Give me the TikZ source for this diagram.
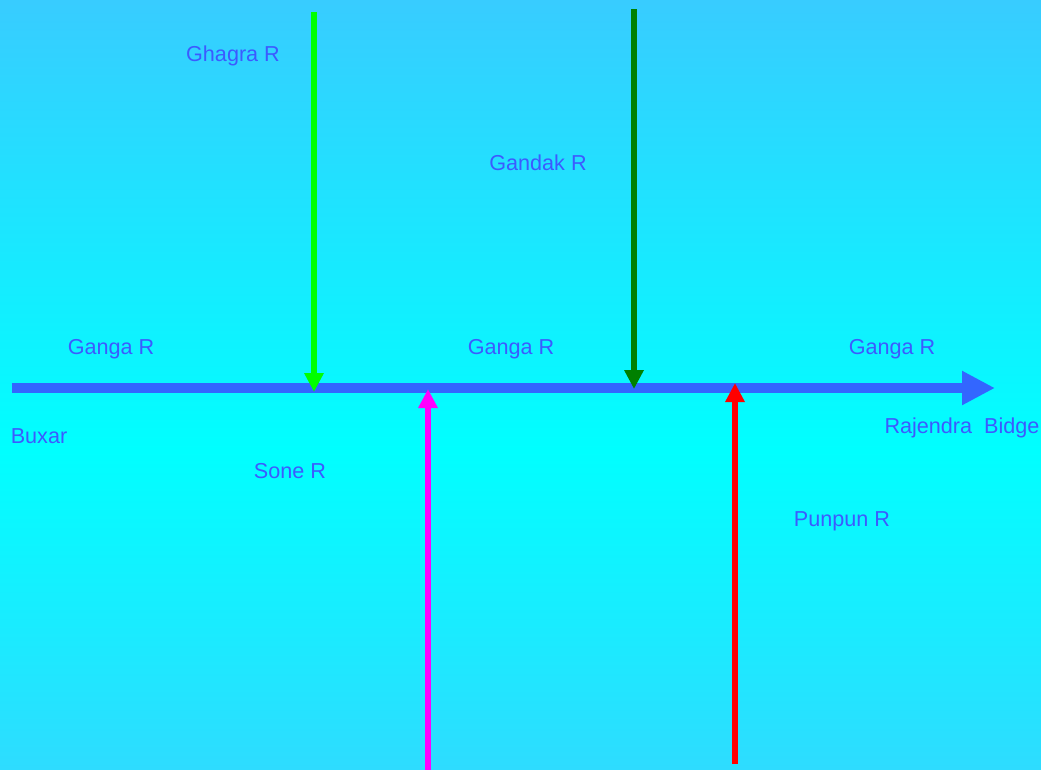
\documentclass[tikz,border=0pt]{standalone}
\usepackage{fontspec}
\setmainfont{Liberation Sans}
\usetikzlibrary{arrows.meta, math}
\definecolor{mytop}{RGB}{56,204,255}
\definecolor{mymid}{RGB}{0,255,255}
\definecolor{mybot}{RGB}{46,220,255}
\definecolor{myblue}{RGB}{51,102,255}
\definecolor{mylabel}{RGB}{60,90,255}
\definecolor{mygreen}{RGB}{0,128,0}
\definecolor{mylime}{RGB}{0,255,0}
\definecolor{mymagenta}{RGB}{255,0,255}
\definecolor{myred}{RGB}{255,0,0}

\begin{document}
\begin{tikzpicture}[x=0.02cm, y=-0.02cm,
  lbl/.style={text=mylabel, font=\fontsize{12.3}{14}\selectfont, inner sep=0pt},
  trib/.style={line width=0.12cm, -{Triangle[length=0.38cm, width=0.37cm]}}]
\tikzmath{
\W=1041;
\H=769;
\Gy=388;
}
% background
\shade[top color=mytop, bottom color=mymid] (0,0) rectangle (\W,450);
\shade[top color=mymid, bottom color=mybot] (0,450) rectangle (\W,\H);
\useasboundingbox (0,0) rectangle (\W,\H);

% river points
\coordinate (buxar) at (12,\Gy);
\coordinate (rajendra) at (995,\Gy);
\coordinate (ghagra0) at (314,12);
\coordinate (ghagra1) at (314,392);
\coordinate (gandak0) at (634,9);
\coordinate (gandak1) at (634,389);
\coordinate (sone0) at (428,772);
\coordinate (sone1) at (428,389);
\coordinate (punpun0) at (735,764);
\coordinate (punpun1) at (735,383);

% Ganga
\draw[myblue, line width=0.2cm, -{Triangle[length=0.66cm, width=0.64cm]}] (buxar) -- (rajendra);

% tributaries
\draw[trib, mylime] (ghagra0) -- (ghagra1);
\draw[trib, mygreen] (gandak0) -- (gandak1);
\draw[trib, mymagenta] (sone0) -- (sone1);
\draw[trib, myred] (punpun0) -- (punpun1);

% labels
\node[lbl] (ghagraL) at (233,56) {Ghagra R};
\node[lbl] (gandakL) at (538,163) {Gandak R};
\node[lbl] (gangaA) at (111,349) {Ganga R};
\node[lbl] (gangaB) at (511,349) {Ganga R};
\node[lbl] (gangaC) at (892,349) {Ganga R};
\node[lbl] (buxarL) at (39,436) {Buxar};
\node[lbl] (rajL) at (962,428) {Rajendra\ \ Bidge};
\node[lbl] (soneL) at (290,471) {Sone R};
\node[lbl] (punpunL) at (842,521) {Punpun R};
\end{tikzpicture}
\end{document}
